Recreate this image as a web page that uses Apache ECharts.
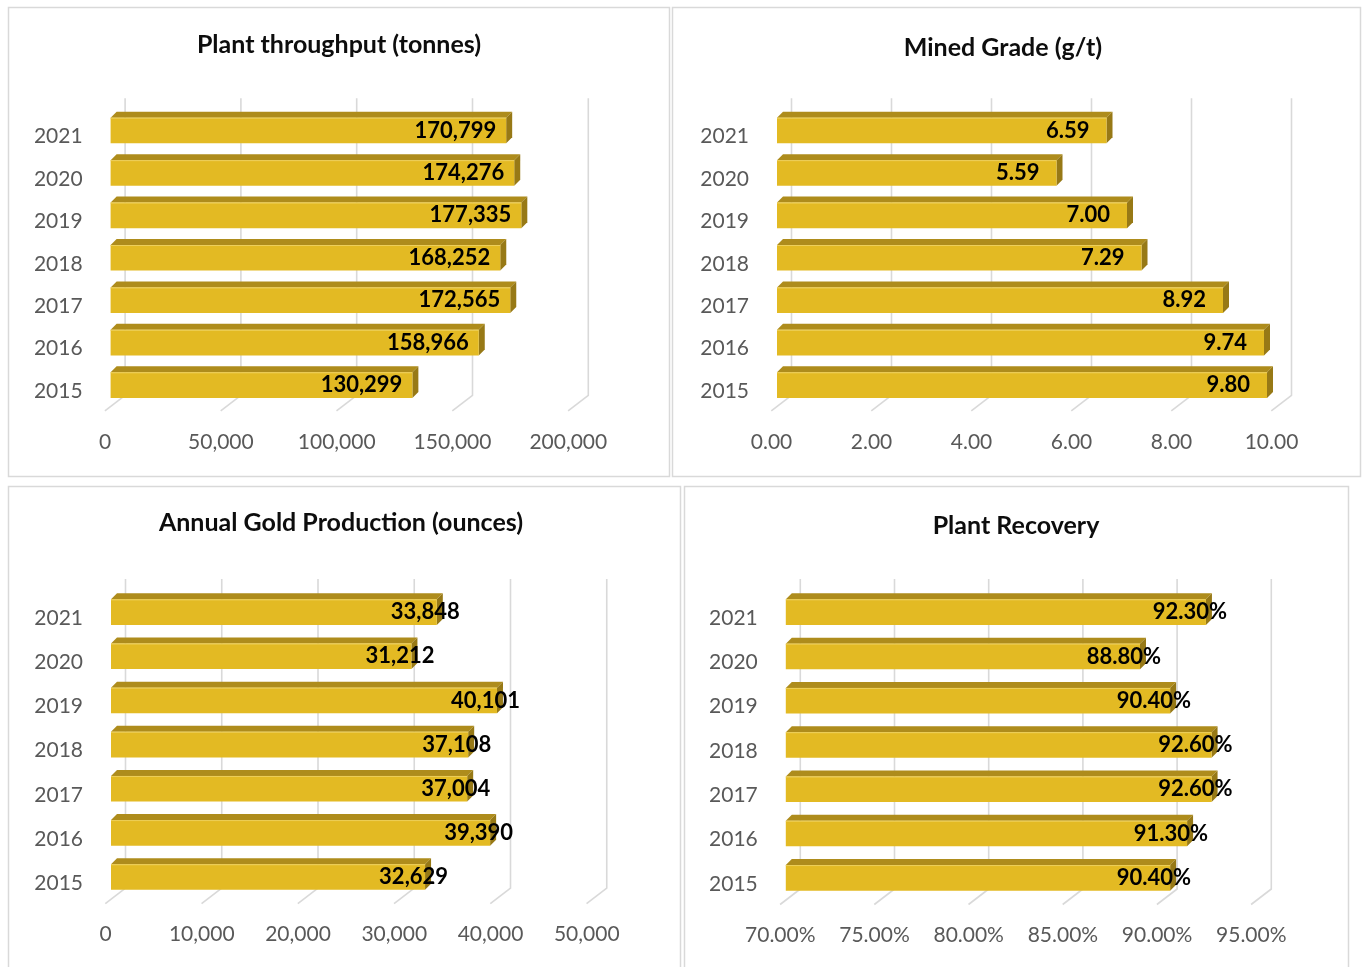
<!DOCTYPE html>
<html>
<head>
<meta charset="utf-8">
<title>Operating statistics 2015–2021</title>
<script src="https://cdn.jsdelivr.net/npm/echarts@6/dist/echarts.min.js"></script>
<style>
  html, body { margin: 0; padding: 0; background: #ffffff; }
  #chart { width: 1363px; height: 967px; }
</style>
</head>
<body>
<div id="chart"></div>
<script>
// Years (bottom to top on each chart)
const years = ['2015', '2016', '2017', '2018', '2019', '2020', '2021'];

// Yearly series
const throughput = [130299, 158966, 172565, 168252, 177335, 174276, 170799]; // tonnes
const minedGrade = [9.80, 9.74, 8.92, 7.29, 7.00, 5.59, 6.59];               // g/t
const goldOunces = [32629, 39390, 37004, 37108, 40101, 31212, 33848];        // ounces
const recovery   = [90.4, 91.3, 92.6, 92.6, 90.4, 88.8, 92.3];               // percent

// Value-axis ticks
const throughputTicks = [0, 50000, 100000, 150000, 200000];
const gradeTicks      = [0, 2, 4, 6, 8, 10];
const goldTicks       = [0, 10000, 20000, 30000, 40000, 50000];
const recoveryTicks   = [70, 75, 80, 85, 90, 95];

// Chart titles
const titles = [
  'Plant throughput (tonnes)',
  'Mined Grade (g/t)',
  'Annual Gold Production (ounces)',
  'Plant Recovery'
];

const thousands = v => Math.round(v).toLocaleString('en-US');
const twoDp = v => Number(v).toFixed(2);
const pct = v => Number(v).toFixed(2) + '%';

const FONT = 'Lato, "Open Sans", "DejaVu Sans", sans-serif';
const FRONT = '#E3BA23';
const TOP = '#AE8C1C';
const SIDE = '#977916';
const GRID_LINE = '#D9D9D9';
const AXIS_TEXT = '#595959';

// Pseudo-3D depth offsets relative to the front face of the bars
const BACK = [14.5, -11];   // back wall
const FLOOR = [-5.7, 4.5];  // front edge of the floor
const BAR_DEPTH = 6;
const BAR_HALF = 12.8;

const panels = [
  { title: titles[0], titlePos: [334, 27], grid: { left: 110.6, top: 109.3, width: 463.2, height: 297 },
    ticks: throughputTicks, values: throughput, axisFmt: thousands, labelFmt: thousands, labelDx: -10 },
  { title: titles[1], titlePos: [998, 30], grid: { left: 777, top: 109.3, width: 500, height: 297 },
    ticks: gradeTicks, values: minedGrade, axisFmt: twoDp, labelFmt: twoDp, labelDx: -17 },
  { title: titles[2], titlePos: [336, 505], grid: { left: 111, top: 590.1, width: 481.25, height: 309 },
    ticks: goldTicks, values: goldOunces, axisFmt: thousands, labelFmt: thousands, labelDx: 23 },
  { title: titles[3], titlePos: [1011, 508], grid: { left: 785.8, top: 590, width: 471, height: 310 },
    ticks: recoveryTicks, values: recovery, axisFmt: pct, labelFmt: pct, labelDx: 21 }
];

const grids = [], xAxes = [], yAxes = [], series = [], titleOpts = [];

panels.forEach((p, k) => {
  titleOpts.push({
    text: p.title, left: p.titlePos[0], top: p.titlePos[1], textAlign: 'center',
    textStyle: { fontFamily: FONT, fontSize: 25, fontWeight: 'bold', color: '#0D0D0D' }
  });
  grids.push(Object.assign({ containLabel: false }, p.grid));
  const interval = p.ticks[1] - p.ticks[0];
  xAxes.push({
    type: 'value', gridIndex: k,
    min: p.ticks[0], max: p.ticks[p.ticks.length - 1], interval: interval,
    axisLine: { show: false }, axisTick: { show: false }, splitLine: { show: false },
    axisLabel: {
      color: AXIS_TEXT, fontFamily: FONT, fontSize: 21, margin: 25,
      padding: [0, 11, 0, 0], formatter: p.axisFmt
    }
  });
  yAxes.push({
    type: 'category', gridIndex: k, data: years,
    axisLine: { show: false }, axisTick: { show: false }, splitLine: { show: false },
    axisLabel: {
      margin: 28,
      formatter: v => '{y|' + v + '}',
      rich: { y: { color: AXIS_TEXT, fontFamily: FONT, fontSize: 21, padding: [12, 0, 0, 0] } }
    }
  });

  // Back-wall gridlines with their slanted floor segments
  series.push({
    type: 'custom', xAxisIndex: k, yAxisIndex: k, clip: false, z: 1, silent: true,
    data: p.ticks.map(t => [t, 0]),
    renderItem: (params, api) => {
      const cs = params.coordSys;
      const x = api.coord([api.value(0), 0])[0];
      const bottom = cs.y + cs.height;
      return {
        type: 'polyline',
        shape: { points: [
          [x + BACK[0], cs.y + BACK[1]],
          [x + BACK[0], bottom + BACK[1]],
          [x + FLOOR[0], bottom + FLOOR[1]]
        ] },
        style: { stroke: GRID_LINE, lineWidth: 1.6, fill: null }
      };
    }
  });

  // Extruded bars with value labels
  series.push({
    type: 'custom', xAxisIndex: k, yAxisIndex: k, clip: false, z: 2,
    data: p.values.map((v, i) => [v, i]),
    renderItem: (params, api) => {
      const cs = params.coordSys;
      const v = api.value(0);
      const end = api.coord([v, api.value(1)]);
      const x0 = cs.x, x1 = end[0], c = end[1];
      const yt = c - BAR_HALF, yb = c + BAR_HALF, d = BAR_DEPTH;
      return {
        type: 'group',
        children: [
          { type: 'polygon', shape: { points: [[x0, yt], [x0 + d, yt - d], [x1 + d, yt - d], [x1, yt]] },
            style: { fill: TOP } },
          { type: 'polygon', shape: { points: [[x1, yt], [x1 + d, yt - d], [x1 + d, yb - d], [x1, yb]] },
            style: { fill: SIDE } },
          { type: 'rect', shape: { x: x0, y: yt, width: x1 - x0, height: yb - yt },
            style: { fill: FRONT } },
          { type: 'line', shape: { x1: x0, y1: yt + 0.5, x2: x1, y2: yt + 0.5 },
            style: { stroke: '#EDCF5A', lineWidth: 1 } },
          { type: 'text', x: x1 + p.labelDx, y: c,
            style: { text: p.labelFmt(v), align: 'right', verticalAlign: 'middle',
                     fontFamily: FONT, fontSize: 22, fontWeight: 'bold', fill: '#000000' } }
        ]
      };
    }
  });
});

const chart = echarts.init(document.getElementById('chart'), null, { renderer: 'canvas' });
chart.setOption({
  backgroundColor: '#ffffff',
  animation: false,
  title: titleOpts,
  grid: grids,
  xAxis: xAxes,
  yAxis: yAxes,
  series: series,
  graphic: [
    { type: 'rect', shape: { x: 8.5, y: 7.5, width: 661, height: 469 }, style: { fill: null, stroke: GRID_LINE, lineWidth: 1.5 }, silent: true },
    { type: 'rect', shape: { x: 672.5, y: 7.5, width: 688, height: 469 }, style: { fill: null, stroke: GRID_LINE, lineWidth: 1.5 }, silent: true },
    { type: 'rect', shape: { x: 8.5, y: 486.5, width: 672, height: 500 }, style: { fill: null, stroke: GRID_LINE, lineWidth: 1.5 }, silent: true },
    { type: 'rect', shape: { x: 684.5, y: 486.5, width: 664, height: 500 }, style: { fill: null, stroke: GRID_LINE, lineWidth: 1.5 }, silent: true }
  ]
});
</script>
</body>
</html>
